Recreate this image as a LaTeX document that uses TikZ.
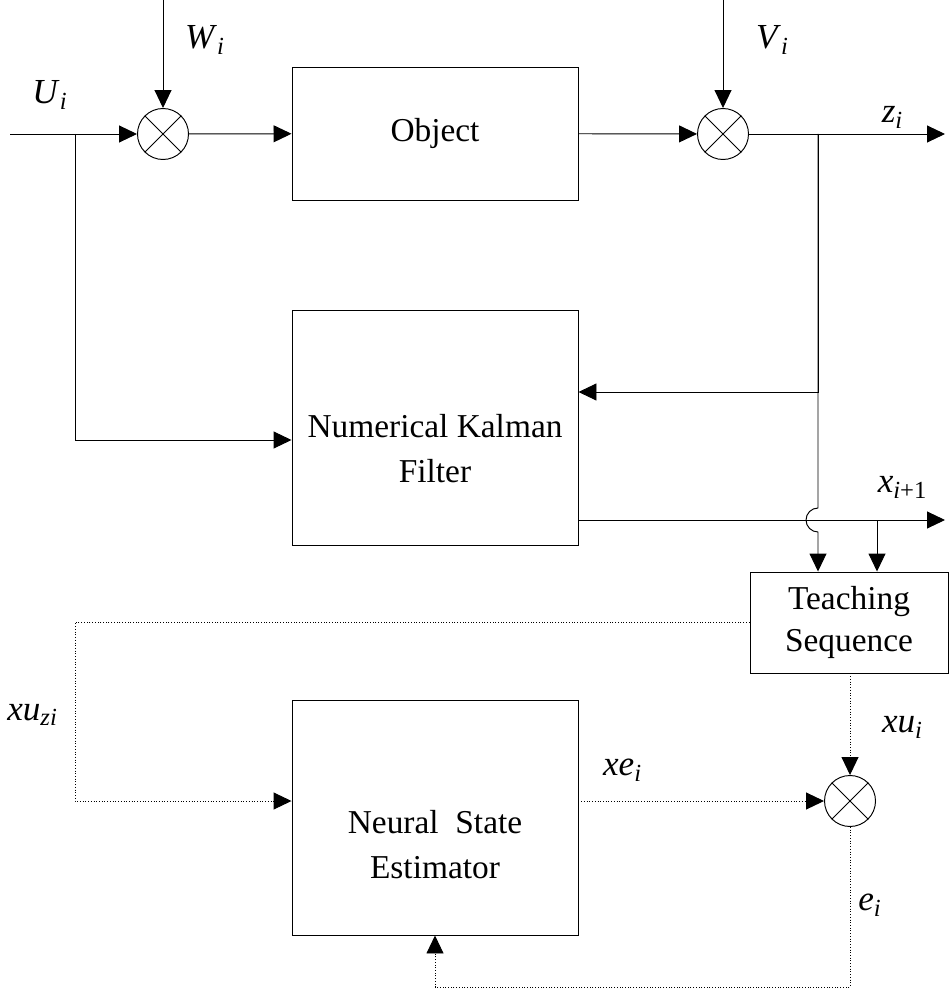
\documentclass[tikz,border=0pt]{standalone}
\usepackage{fontspec}
\setmainfont{Liberation Serif}
\usetikzlibrary{arrows.meta, positioning, calc}
\newcommand{\sig}[2]{\textit{#1}\textsubscript{\textit{#2}}}

\begin{document}
\begin{tikzpicture}[line width=0.55pt,
  block/.style={draw, minimum width=5.72cm, align=center, font=\fontsize{19}{24}\selectfont},
  caption/.style={align=center, font=\fontsize{19}{24}\selectfont},
  mixer/.style={draw, circle, minimum size=1.02cm, inner sep=0pt,
                append after command={(\tikzlastnode.north west) edge (\tikzlastnode.south east)
                                      (\tikzlastnode.north east) edge (\tikzlastnode.south west)}},
  sigl/.style={font=\fontsize{20}{22}\selectfont},
  flow/.style={-{Triangle[length=0.36cm, width=0.34cm]}},
  taught/.style={densely dotted, -{Triangle[length=0.36cm, width=0.34cm]}},
]
  \useasboundingbox (0,0) rectangle (19,-20.1);
  % blocks
  \node[mixer] (sum1) at (3.26,-2.68) {};
  \node[block, minimum height=2.66cm] (obj) at (8.7,-2.67) {Object};
  \node[mixer] (sum2) at (14.46,-2.68) {};
  \node[block, minimum height=4.7cm] (kalman) at (8.7,-8.55) {};
  \node[caption] (kalmantxt) at ($(kalman.center)+(0,-0.42)$) {Numerical Kalman\\[2pt]Filter};
  \node[block, minimum width=3.96cm, minimum height=2.02cm] (teach) at (16.98,-12.45) {Teaching\\Sequence};
  \node[block, minimum height=4.7cm] (neural) at (8.7,-16.35) {};
  \node[caption] (neuraltxt) at ($(neural.center)+(0,-0.54)$) {Neural~~State\\[2pt]Estimator};
  \node[mixer] (sum3) at (17.0,-16.02) {};
  % helper points
  \coordinate (uin) at (0.2,-2.68);
  \coordinate (wtop) at (3.26,0);
  \coordinate (vtop) at (14.46,0);
  \coordinate (ubr) at (1.5,-2.68);
  \coordinate (zbr) at (16.36,-2.68);
  \coordinate (zout) at (18.9,-2.68);
  \coordinate (xout) at (18.9,-10.4);
  \coordinate (xbr) at (17.54,-10.4);
  \coordinate (fb) at (8.7,-19.74);
  % signals
  \node[sigl] (lu) at (1.0,-1.9) {\sig{U}{i}};
  \node[sigl] (lw) at (4.1,-0.8) {\sig{W}{i}};
  \node[sigl] (lv) at (15.45,-0.8) {\sig{V}{i}};
  \node[sigl] (lz) at (17.85,-2.35) {\sig{z}{i}};
  \node[sigl] (lx) at (18.05,-9.75) {\textit{x}\textsubscript{\textit{i}+1}};
  \node[sigl] (lxuz) at (0.65,-14.3) {\textit{xu}\textsubscript{\textit{zi}}};
  \node[sigl] (lxe) at (12.45,-15.4) {\sig{xe}{i}};
  \node[sigl] (lxu) at (18.05,-14.55) {\sig{xu}{i}};
  \node[sigl] (le) at (17.4,-18.1) {\sig{e}{i}};
  % forward path
  \draw[flow] (uin) -- (sum1);
  \draw[flow] (wtop) -- (sum1);
  \draw[flow] (sum1) -- (obj);
  \draw[flow] (obj) -- (sum2);
  \draw[flow] (vtop) -- (sum2);
  \draw[flow] (sum2) -- (zout);
  % kalman inputs
  \draw[flow] (ubr) |- ($(kalman.west)+(0,-0.25)$);
  \draw[flow] (zbr) |- ($(kalman.east)+(0,0.71)$);
  \draw[flow] ($(kalman.east |- xout)$) -- (xout);
  \draw[flow] (zbr) -- (16.36,-10.16) arc[start angle=90, end angle=270, radius=0.24]
              -- (zbr |- teach.north);
  \draw[flow] (xbr) -- (xbr |- teach.north);
  % neural loop
  \draw[taught] (teach.west) -| (1.5,-16.02) -- (neural.west |- sum3);
  \draw[taught] (neural.east |- sum3) -- (sum3);
  \draw[taught] (sum3 |- teach.south) -- (sum3);
  \draw[taught] (sum3) |- (fb) -- (neural.south);
\end{tikzpicture}
\end{document}
